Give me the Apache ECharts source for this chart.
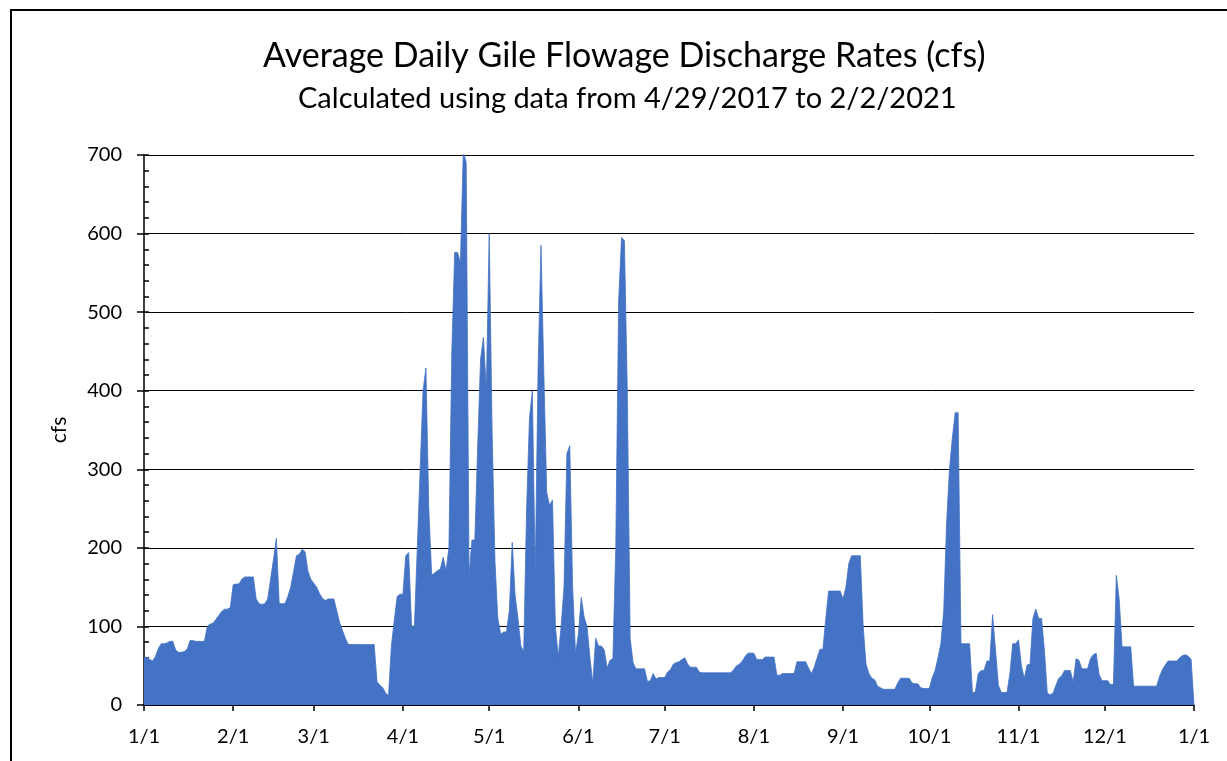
<!DOCTYPE html>
<html>
<head>
<meta charset="utf-8">
<title>Average Daily Gile Flowage Discharge Rates</title>
<script src="https://cdn.jsdelivr.net/npm/echarts@6/dist/echarts.min.js"></script>
<style>
  html, body { margin: 0; padding: 0; background: #fff; }
  #chart { width: 1227px; height: 761px; }
</style>
</head>
<body>
<div id="chart"></div>
<script>
// average daily discharge (cfs), one array per month
const jan = [60, 61, 58, 56, 62, 72, 78, 78, 79, 81, 81, 70, 67, 67, 68, 71, 82, 82, 81, 81,
             81, 81, 100, 103, 104, 109, 114, 119, 122, 122, 124];
const feb = [153, 154, 154, 160, 163, 163, 163, 163, 135, 129, 128, 129, 135, 160, 185, 212, 129, 129, 129, 138,
             150, 170, 190, 192, 198, 195, 170, 160];
const mar = [155, 150, 142, 136, 133, 135, 135, 135, 120, 105, 95, 85, 77, 77, 77, 77, 77, 77, 77, 77,
             77, 77, 30, 25, 22, 15, 12, 75, 108, 138, 141];
const apr = [141, 190, 194, 101, 100, 200, 300, 400, 429, 250, 165, 168, 171, 173, 188, 171, 200, 450, 576, 576,
             563, 705, 690, 165, 210, 210, 330, 440, 468, 400];
const may = [600, 350, 183, 110, 90, 93, 93, 120, 207, 140, 110, 75, 68, 250, 365, 400, 166, 430, 585, 420,
             270, 254, 261, 100, 62, 100, 150, 320, 330, 150, 66];
const jun = [90, 137, 112, 100, 61, 28, 85, 75, 75, 70, 47, 57, 59, 200, 515, 595, 591, 400, 85, 54,
             46, 46, 46, 46, 30, 31, 40, 33, 35, 35];
const jul = [35, 42, 45, 52, 54, 55, 58, 60, 52, 48, 48, 48, 42, 41, 41, 41, 41, 41, 41, 41,
             41, 41, 41, 41, 45, 50, 52, 56, 62, 66, 66];
const aug = [66, 58, 58, 58, 61, 61, 61, 61, 38, 38, 40, 40, 40, 40, 40, 55, 55, 55, 55, 47,
             40, 48, 60, 71, 71, 110, 145, 145, 145, 145, 145];
const sep = [135, 150, 180, 190, 190, 190, 190, 100, 52, 40, 34, 32, 24, 22, 20, 20, 20, 20, 20, 28,
             34, 34, 34, 34, 28, 27, 27, 22, 21, 21];
const oct = [21, 35, 44, 60, 78, 120, 232, 300, 340, 372, 372, 78, 78, 78, 78, 15, 17, 40, 44, 44,
             56, 56, 115, 70, 25, 16, 16, 16, 40, 78, 78];
const nov = [83, 50, 34, 51, 52, 110, 122, 110, 110, 70, 15, 13, 15, 25, 34, 37, 44, 44, 44, 29,
             59, 57, 46, 46, 46, 59, 64, 66, 39, 31];
const dec = [31, 31, 26, 26, 165, 134, 74, 74, 74, 74, 24, 24, 24, 24, 24, 24, 24, 24, 24, 36,
             45, 51, 56, 56, 56, 56, 60, 63, 64, 62, 58];
const yearEnd = [0];   // closing point at the next 1/1

const months = [jan, feb, mar, apr, may, jun, jul, aug, sep, oct, nov, dec];

// x categories "m/d", plus the closing 1/1
const days = [];
months.forEach((arr, m) => arr.forEach((v, i) => days.push((m + 1) + '/' + (i + 1))));
days.push('1/1');
const flow = [].concat(...months, yearEnd);

const isMonthStart = (idx, val) => val.split('/')[1] === '1';
const font = 'Lato';

const chart = echarts.init(document.getElementById('chart'));
chart.setOption({
    animation: false,
    backgroundColor: '#fff',
    textStyle: { fontFamily: font },
    title: [
        { text: 'Average Daily Gile Flowage Discharge Rates (cfs)', left: 258, top: 34,
          textStyle: { fontFamily: font, fontSize: 34, fontWeight: 'normal', color: '#000' } },
        { text: 'Calculated using data from 4/29/2017 to 2/2/2021', left: 293, top: 79,
          textStyle: { fontFamily: font, fontSize: 29, fontWeight: 'normal', color: '#000' } }
    ],
    graphic: [{
        type: 'rect', silent: true,
        shape: { x: 11, y: 10, width: 1300, height: 900 },
        style: { fill: 'none', stroke: '#000', lineWidth: 2 }
    }],
    grid: [
        { left: 144, right: 33, top: 155, bottom: 56 },
        { left: 144, right: 33, top: 155, bottom: 56 }
    ],
    xAxis: [{
        type: 'category', data: days, boundaryGap: false,
        axisLine: { lineStyle: { color: '#000', width: 1.5 } },
        axisTick: { interval: isMonthStart, length: 6, lineStyle: { color: '#000', width: 1.5 } },
        axisLabel: { interval: isMonthStart, color: '#000', fontSize: 20, margin: 22, fontFamily: font },
        splitLine: { show: false }
    }, {
        type: 'value', gridIndex: 1, show: false, min: 0, max: 1
    }],
    yAxis: [{
        type: 'value', min: 0, max: 700, interval: 100,
        name: 'cfs', nameLocation: 'middle', nameGap: 74, nameRotate: 90,
        nameTextStyle: { color: '#000', fontSize: 21, fontFamily: font },
        axisLine: { show: true, lineStyle: { color: '#000', width: 1.5 } },
        axisTick: { show: true, inside: true, length: 5, lineStyle: { color: '#000', width: 1.5 } },
        minorTick: { show: true, splitNumber: 5, length: 5, lineStyle: { color: '#000', width: 1.5 } },
        axisLabel: { color: '#000', fontSize: 20, margin: 22, fontFamily: font },
        splitLine: { show: true, lineStyle: { color: '#000', width: 1 } }
    }, {
        // outer half of the major ticks
        type: 'value', gridIndex: 1, min: 0, max: 700, interval: 100,
        axisLine: { show: false },
        axisTick: { show: true, length: 7, lineStyle: { color: '#000', width: 1.5 } },
        axisLabel: { show: false },
        splitLine: { show: false }
    }],
    series: [{
        type: 'line', data: flow, symbol: 'none', silent: true,
        lineStyle: { color: '#4472C4', width: 0.8 },
        areaStyle: { color: '#4472C4', opacity: 1 }
    }]
});
</script>
</body>
</html>
